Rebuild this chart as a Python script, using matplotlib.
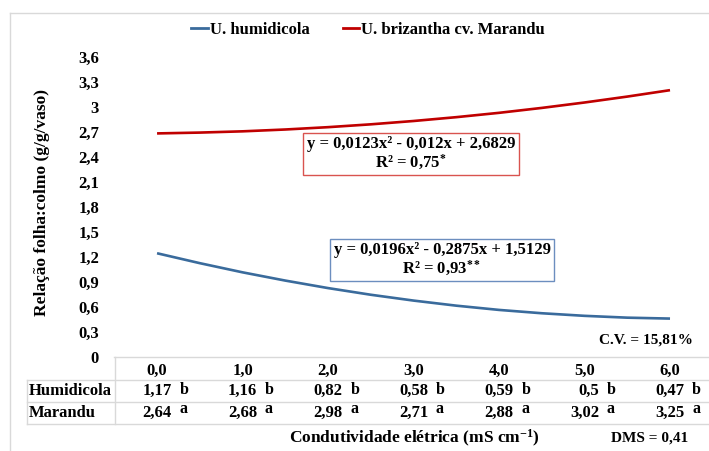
import matplotlib.pyplot as plt
import matplotlib.transforms as mtransforms
from matplotlib.lines import Line2D

plt.rcParams['font.family'] = ['Liberation Serif', 'DejaVu Serif']
plt.rcParams['font.weight'] = 'bold'
plt.rcParams['mathtext.fontset'] = 'custom'
plt.rcParams['mathtext.rm'] = 'Liberation Serif:bold'
plt.rcParams['mathtext.it'] = 'Liberation Serif:bold'
plt.rcParams['mathtext.bf'] = 'Liberation Serif:bold'

# categorias (condutividade eletrica)
ce_labels = ['0,0', '1,0', '2,0', '3,0', '4,0', '5,0', '6,0']

# medias da tabela
humid_vals = ['1,17', '1,16', '0,82', '0,58', '0,59', '0,5', '0,47']
humid_letras = ['b', 'b', 'b', 'b', 'b', 'b', 'b']
marandu_vals = ['2,64', '2,68', '2,98', '2,71', '2,88', '3,02', '3,25']
marandu_letras = ['a', 'a', 'a', 'a', 'a', 'a', 'a']

# linhas de tendencia (passo de meia categoria)
trend_x = [0, 0.5, 1, 1.5, 2, 2.5, 3, 3.5, 4, 4.5, 5, 5.5, 6]
humid_trend = [1.245, 1.126, 1.016, 0.917, 0.827, 0.747, 0.677, 0.616, 0.565, 0.525, 0.494, 0.472, 0.461]
marandu_trend = [2.683, 2.693, 2.708, 2.730, 2.758, 2.792, 2.832, 2.878, 2.930, 2.989, 3.054, 3.125, 3.202]

yticks = [0, 0.3, 0.6, 0.9, 1.2, 1.5, 1.8, 2.1, 2.4, 2.7, 3.0, 3.3, 3.6]
ytick_labels = ['0', '0,3', '0,6', '0,9', '1,2', '1,5', '1,8', '2,1', '2,4', '2,7', '3', '3,3', '3,6']

azul = '#3a6b9c'
vermelho = '#c00000'
cinza = '#d9d9d9'

W, H = 709, 451
fig = plt.figure(figsize=(W / 100, H / 100), dpi=100)

def fx(px):
    return px / W

def fy(py):
    return 1 - py / H

ax = fig.add_axes([fx(114.3), fy(357), 1 - fx(114.3), fy(57) - fy(357)])
ax.set_xlim(-0.5, 6.456)
ax.set_ylim(0, 3.6)
for s in ['left', 'right', 'top']:
    ax.spines[s].set_visible(False)
ax.spines['bottom'].set_color(cinza)
ax.spines['bottom'].set_linewidth(1)

ax.plot(trend_x, humid_trend, color=azul, lw=1.9, solid_capstyle='butt')
ax.plot(trend_x, marandu_trend, color=vermelho, lw=1.9, solid_capstyle='butt')

ax.set_yticks(yticks)
ax.set_yticklabels(ytick_labels, fontsize=12, fontweight='bold')
ax.tick_params(axis='y', length=0, pad=11)
ax.set_xticks(range(len(ce_labels)))
ax.set_xticklabels(ce_labels, fontsize=12, fontweight='bold')
ax.tick_params(axis='x', length=0, pad=4)

# equacoes
fig.text(fx(411), fy(154), 'y = 0,0123x² - 0,012x + 2,6829\nR² = 0,75$^{*}$',
         ha='center', va='center', fontsize=12, fontweight='bold', linespacing=1.05,
         bbox=dict(boxstyle='square,pad=0.2', fc='white', ec='#d9534f', lw=1))
fig.text(fx(442), fy(260), 'y = 0,0196x² - 0,2875x + 1,5129\nR² = 0,93$^{**}$',
         ha='center', va='center', fontsize=12, fontweight='bold', linespacing=1.05,
         bbox=dict(boxstyle='square,pad=0.2', fc='white', ec='#6c8ebf', lw=1))

# tabela
trans = mtransforms.blended_transform_factory(ax.transData, fig.transFigure)
row_y = [fy(391), fy(413)]
for i in range(len(ce_labels)):
    for vals, letras, ry, dy in [(humid_vals, humid_letras, row_y[0], 0.002),
                                 (marandu_vals, marandu_letras, row_y[1], 0.008)]:
        ax.text(i + 0.17, ry, vals[i], transform=trans, ha='right', va='center',
                fontsize=12, fontweight='bold', clip_on=False)
        ax.text(i + 0.26, ry + dy, letras[i], transform=trans, ha='left', va='center',
                fontsize=11.5, fontweight='bold', clip_on=False)

fig.text(fx(29), row_y[0], 'Humidicola', ha='left', va='center', fontsize=12, fontweight='bold')
fig.text(fx(29), row_y[1], 'Marandu', ha='left', va='center', fontsize=12, fontweight='bold')

for py in [380, 402, 424]:
    fig.add_artist(Line2D([fx(27), 1], [fy(py), fy(py)], color=cinza, lw=1))
fig.add_artist(Line2D([fx(27), fx(27)], [fy(380), fy(424)], color=cinza, lw=1))
fig.add_artist(Line2D([fx(114.5), fx(114.5)], [fy(357), fy(424)], color=cinza, lw=1))

# moldura
fig.add_artist(Line2D([fx(10), fx(10)], [fy(13), 0], color=cinza, lw=1))
fig.add_artist(Line2D([fx(10), 1], [fy(13), fy(13)], color=cinza, lw=1))

# textos
fig.text(fx(42), fy(203), 'Relação folha:colmo (g/g/vaso)', rotation=90,
         ha='center', va='center', fontsize=12.5, fontweight='bold')
fig.text(fx(414), fy(438), 'Condutividade elétrica (mS cm$^{\\mathregular{-1}}$)',
         ha='center', va='center', fontsize=12.5, fontweight='bold')
fig.text(fx(650), fy(438), 'DMS = 0,41', ha='center', va='center', fontsize=11, fontweight='bold')
fig.text(fx(646), fy(340), 'C.V. = 15,81%', ha='center', va='center', fontsize=11, fontweight='bold')

handles = [Line2D([], [], color=azul, lw=2), Line2D([], [], color=vermelho, lw=2)]
fig.legend(handles, ['U. humidicola', 'U. brizantha cv. Marandu'], loc='center',
           bbox_to_anchor=(fx(368), fy(30)), ncol=2, frameon=False,
           handlelength=1.0, handletextpad=0.1, columnspacing=2.0,
           prop={'weight': 'bold', 'size': 12})

fig.savefig('out.png', dpi=100, facecolor='white')
